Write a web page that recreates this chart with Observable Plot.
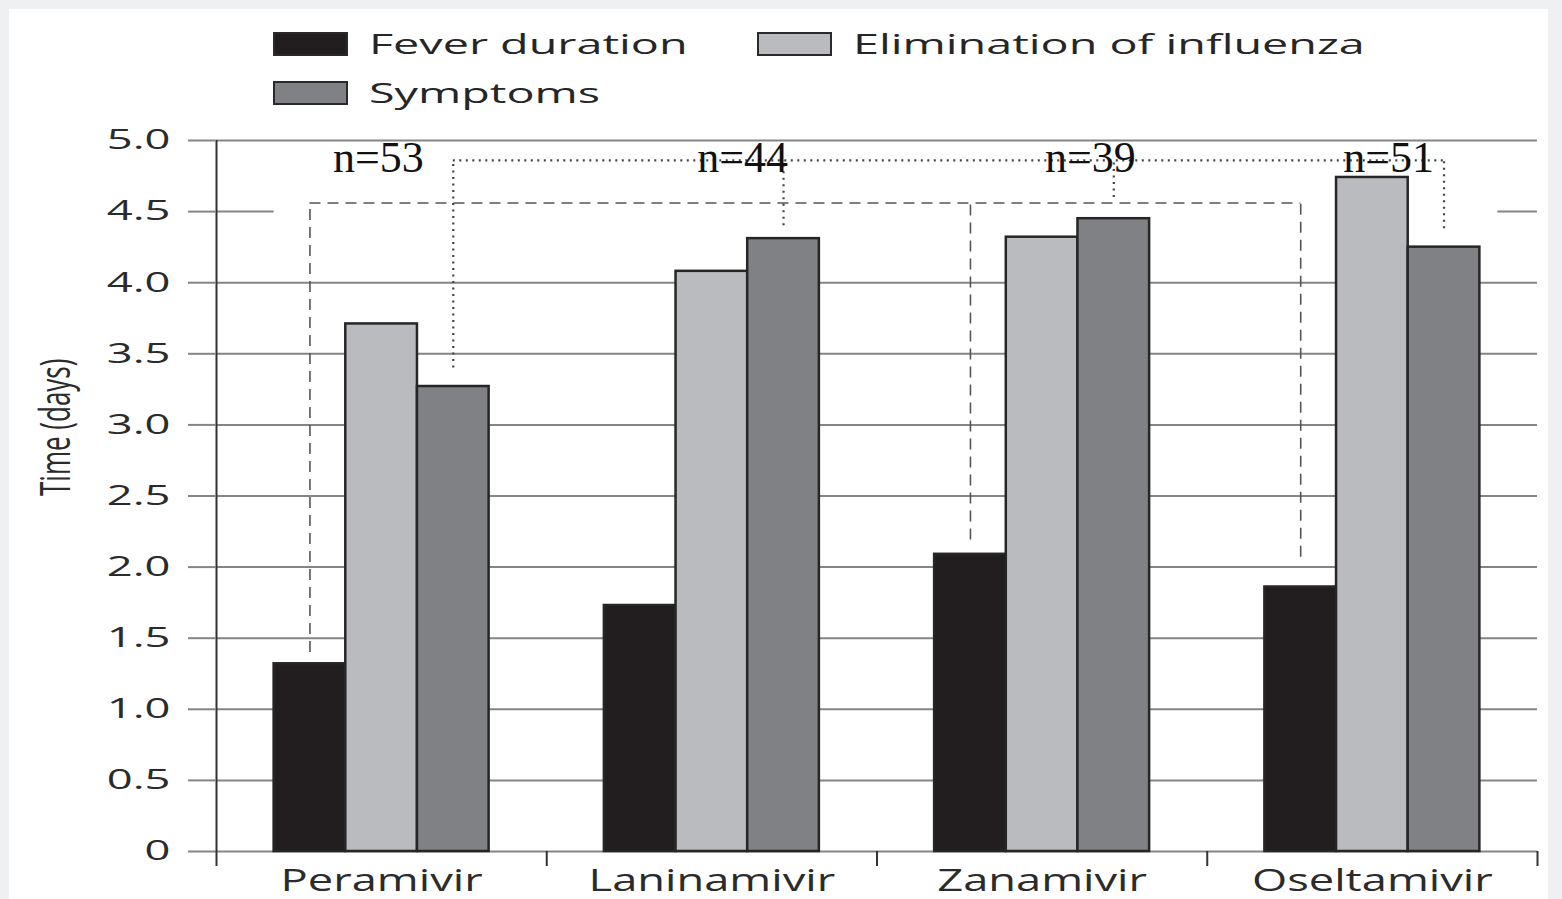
<!DOCTYPE html>
<html>
<head>
<meta charset="utf-8">
<script src="https://cdn.jsdelivr.net/npm/d3@7"></script>
<script src="https://cdn.jsdelivr.net/npm/@observablehq/plot@0.6"></script>
<style>
  html, body { margin: 0; padding: 0; }
  body { background: #eef0f2; width: 1562px; height: 899px; overflow: hidden; font-family: "Open Sans", sans-serif; position: relative; }
  #panel { position: absolute; left: 9px; top: 9px; width: 1539px; height: 890px; background: #fff; }
  #legend { position: relative; height: 111px; }
  .item { position: absolute; display: flex; align-items: center; height: 24px; }
  .sw { width: 75px; height: 24px; border: 2px solid #2a2a2a; box-sizing: border-box; flex: none; }
  .lab { margin-left: 21px; font-size: 27px; line-height: 24px; color: #262626; transform: scaleX(1.73); transform-origin: left center; white-space: nowrap; }
  #chart svg { display: block; }
</style>
</head>
<body>
<div id="panel">
  <div id="legend"></div>
  <div id="chart"></div>
</div>
<script>
// ---- data ----
const drugs = ["Peramivir", "Laninamivir", "Zanamivir", "Oseltamivir"];
const series = ["Fever duration", "Elimination of influenza", "Symptoms"];
const fever = [1.32, 1.73, 2.09, 1.86];
const elimination = [3.71, 4.08, 4.32, 4.74];
const symptoms = [3.27, 4.31, 4.45, 4.25];
const nLabels = ["n=53", "n=44", "n=39", "n=51"];
const yTicks = [0, 0.5, 1, 1.5, 2, 2.5, 3, 3.5, 4, 4.5, 5];
const yLabel = "Time (days)";

// annotation brackets
const dashedGroups = ["Peramivir", "Zanamivir", "Oseltamivir"]; // joins fever bars
const dashedEnds = [1.40, 2.19, 2.07];
const dashedLevel = 4.56;
const dottedEnds = [3.40, 4.40, 4.60, 4.38]; // joins symptoms bars
const dottedLevel = 4.86;
const nLevel = 4.875;
const nShift = [0.49, 0.593, 0.646, 0.549];

// ---- styles ----
const colors = ["#221e1f", "#b9bbbe", "#808185"];
const stretchY = 1.65;
const stretchX = 1.46;
const W = 0.217;

const values = [fever, elimination, symptoms];
const rows = [];
drugs.forEach((d, i) => values.forEach((arr, k) => rows.push({drug: d, i, k, series: series[k], value: arr[i]})));
const barX1 = (i, k) => i + 0.5 + (k - 1.5) * W;
const center = (i, k) => barX1(i, k) + W / 2;

// legend (HTML)
const legendPos = [[264, 23], [748, 23], [264, 72]];
const legend = document.getElementById("legend");
series.forEach((s, k) => {
  const it = document.createElement("div");
  it.className = "item";
  it.style.left = legendPos[k][0] + "px";
  it.style.top = legendPos[k][1] + "px";
  it.innerHTML = `<div class="sw" style="background:${colors[k]}"></div><span class="lab">${s}</span>`;
  legend.appendChild(it);
});

const dashedIdx = dashedGroups.map(g => drugs.indexOf(g));
const dashedV = dashedIdx.map((i, j) => ({x: center(i, 0), y1: dashedEnds[j], y2: dashedLevel}));
const dottedV = drugs.map((d, i) => ({x: center(i, 2), y1: dottedEnds[i], y2: dottedLevel}));
const gridColor = "#858585";
const grid = Plot.ruleY(yTicks.filter(t => t !== 4.5), {stroke: gridColor, strokeWidth: 2});
const gridGapStart = barX1(0, 0);
const gridGapEnd = 3.88;

const fmt = d => d === 0 ? "0" : d.toFixed(1);

const chart = Plot.plot({
  width: 1539,
  height: 779,
  marginLeft: 207,
  marginRight: 11,
  marginTop: 20,
  marginBottom: 48,
  style: {fontFamily: "Open Sans, sans-serif", color: "#2b2b2b", background: "transparent", overflow: "visible"},
  x: {domain: [0, 4]},
  y: {domain: [0, 5]},
  color: {domain: series, range: colors},
  marks: [
    grid,
    Plot.ruleY([4.5], {x1: 0, x2: gridGapStart, stroke: gridColor, strokeWidth: 2}),
    Plot.ruleY([4.5], {x1: gridGapEnd, x2: 4, stroke: gridColor, strokeWidth: 2}),
    Plot.rect(rows, {
      x1: r => barX1(r.i, r.k),
      x2: r => barX1(r.i, r.k) + W,
      y1: 0,
      y2: "value",
      fill: "series",
      stroke: "#262626",
      strokeWidth: 2.5
    }),
    // dashed bracket
    Plot.ruleX(dashedV, {x: "x", y1: "y1", y2: "y2", stroke: "#555", strokeWidth: 1.6, strokeDasharray: "11,7"}),
    Plot.ruleY([dashedLevel], {x1: dashedV[0].x, x2: dashedV[dashedV.length - 1].x, stroke: "#555", strokeWidth: 1.6, strokeDasharray: "11,7"}),
    // dotted bracket
    Plot.ruleX(dottedV, {x: "x", y1: "y1", y2: "y2", stroke: "#444", strokeWidth: 2.2, strokeDasharray: "2,4.5"}),
    Plot.ruleY([dottedLevel], {x1: dottedV[0].x, x2: dottedV[dottedV.length - 1].x, stroke: "#444", strokeWidth: 2.2, strokeDasharray: "2,4.5"}),
    Plot.text(nLabels, {x: (d, i) => i + nShift[i], y: nLevel, text: d => d, fontFamily: "Liberation Serif, Times New Roman, serif", fontSize: 44, fill: "#111"}),
    // axes
    Plot.ruleX([0], {stroke: "#333", strokeWidth: 2}),
    Plot.axisY(yTicks, {tickSize: 28, tickPadding: 18, tickFormat: fmt, stroke: gridColor, strokeWidth: 2, fontSize: 27.5, fill: "#2b2b2b", label: null}),
    Plot.axisX([0, 1, 2, 3, 4], {tickSize: 15, tickFormat: () => "", stroke: "#333", strokeWidth: 2, label: null}),
    Plot.axisX(drugs.map((d, i) => i + 0.5), {tickSize: 0, tickPadding: 17, tickFormat: d => drugs[Math.floor(d)], fontSize: 31, fill: "#2b2b2b", label: null}),
    Plot.text([yLabel], {frameAnchor: "left", rotate: -90, dx: -160, fontSize: 26, fill: "#2b2b2b"})
  ]
});
document.getElementById("chart").appendChild(chart);

// horizontal stretch of the sans-serif labels (the reference is widened)
const stretchText = (sel, sx, sy) => chart.querySelectorAll(sel).forEach(t => {
  const tr = t.getAttribute("transform") || "";
  t.setAttribute("transform", tr + ` scale(${sx},${sy})`);
});
stretchText('g[aria-label="y-axis tick label"] text', stretchY, 1);
stretchText('g[aria-label="x-axis tick label"] text', stretchX, 1);
chart.querySelectorAll('text').forEach(t => {
  if (t.textContent === yLabel) {
    const tr = t.getAttribute("transform") || "";
    t.setAttribute("transform", tr + ` scale(1,${stretchY})`);
  }
});
</script>
</body>
</html>
